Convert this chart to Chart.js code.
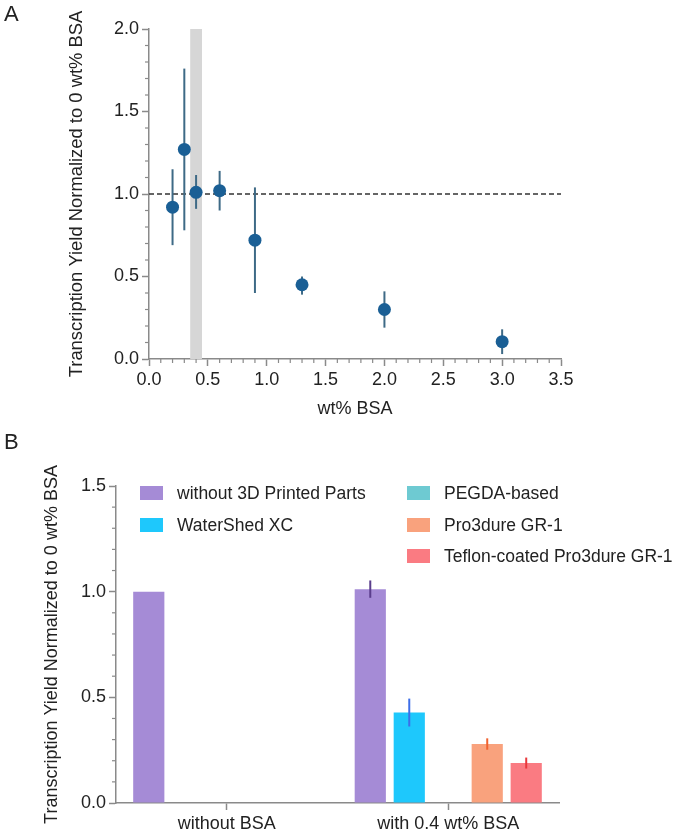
<!DOCTYPE html>
<html>
<head>
<meta charset="utf-8">
<script src="https://cdn.jsdelivr.net/npm/chart.js@4.4.1/dist/chart.umd.min.js"></script>
<style>
  body { margin: 0; background: #fff; font-family: "Liberation Sans", Arial, sans-serif; color: #222; }
  #wrap { position: relative; width: 677px; height: 833px; overflow: hidden; }
  .panel { position: absolute; left: 0; width: 677px; }
  #panelA { top: 0; height: 420px; }
  #panelB { top: 420px; height: 413px; }
  .tag { position: absolute; left: 4px; font-size: 22px; }
  .leg { position: absolute; font-size: 17.5px; white-space: nowrap; line-height: 22px; }
  .leg span.sw { display: inline-block; width: 23px; height: 14px; vertical-align: -1px; margin-right: 14px; }
</style>
</head>
<body>
<div id="wrap">
  <div class="panel" id="panelA"><canvas id="chartA"></canvas></div>
  <div class="panel" id="panelB"><canvas id="chartB"></canvas></div>
  <div class="tag" style="top:1px">A</div>
  <div class="tag" style="top:429px">B</div>
  <div id="legendB"></div>
</div>
<script>
// Panel A - transcription yield vs BSA concentration
const bsaConc   = [0.2, 0.3, 0.4, 0.6, 0.9, 1.3, 2.0, 3.0];
const yieldMean = [0.92, 1.27, 1.01, 1.02, 0.72, 0.45, 0.30, 0.105];
const yieldLow  = [0.69, 0.78, 0.91, 0.90, 0.40, 0.39, 0.19, 0.03];
const yieldHigh = [1.15, 1.76, 1.115, 1.14, 1.04, 0.50, 0.41, 0.18];
const bandRange = [0.35, 0.45];
const refLevel = 1.0;

// Panel B - grouped bars
const conditions = ['without BSA', 'with 0.4 wt% BSA'];
const materials = ['without 3D Printed Parts', 'WaterShed XC', 'PEGDA-based', 'Pro3dure GR-1', 'Teflon-coated Pro3dure GR-1'];
const noPrinted   = [1.0, 1.012];
const noPrintedSd = [null, 0.041];
const waterShed   = [null, 0.428];
const waterShedSd = [null, 0.066];
const pegda       = [null, null];
const pegdaSd     = [null, null];
const pro3dure    = [null, 0.279];
const pro3dureSd  = [null, 0.027];
const teflon      = [null, 0.189];
const teflonSd    = [null, 0.026];

const barColors = ['#a58bd6', '#1ec8fc', '#6ecad2', '#f9a27d', '#fa7b82'];
const errColors = ['#5a3d8c', '#3d6ee8', '#4aa7b0', '#f0622f', '#e8383c'];

const AXIS = '#8a8a8a';
const FONT = { family: 'Liberation Sans, Arial, sans-serif', size: 18 };
const TITLE_FONT = { family: 'Liberation Sans, Arial, sans-serif', size: 18.4 };
Chart.defaults.color = '#222';
Chart.defaults.font.family = FONT.family;

// small ticks between the labelled ones
const minorTicks = {
    id: 'minorTicks',
    afterDraw(chart) {
        const ctx = chart.ctx;
        ctx.save();
        ctx.strokeStyle = AXIS;
        ctx.lineWidth = 1.2;
        Object.values(chart.scales).forEach(s => {
            const step = s.options.minorStep;
            if (!step) return;
            for (let v = s.min; v <= s.max + 1e-9; v += step) {
                const r = Math.round(v / step) * step;
                if (Math.abs(r / s.options.ticks.stepSize - Math.round(r / s.options.ticks.stepSize)) < 1e-6) continue;
                const p = s.getPixelForValue(r);
                ctx.beginPath();
                if (s.isHorizontal()) {
                    ctx.moveTo(p, s.top); ctx.lineTo(p, s.top + 4);
                } else {
                    ctx.moveTo(s.right, p); ctx.lineTo(s.right - 4, p);
                }
                ctx.stroke();
            }
        });
        ctx.restore();
    }
};

// gray band + error bars for panel A
const panelAExtras = {
    id: 'panelAExtras',
    beforeDatasetsDraw(chart) {
        const { ctx, chartArea, scales: { x } } = chart;
        ctx.save();
        ctx.fillStyle = '#d6d6d6';
        const x0 = x.getPixelForValue(bandRange[0]);
        const x1 = x.getPixelForValue(bandRange[1]);
        ctx.fillRect(x0, chartArea.top, x1 - x0, chartArea.bottom - chartArea.top);
        ctx.restore();
    },
    beforeDatasetDraw(chart, args) {
        if (args.index !== 0) return;
        const { ctx, scales: { x, y } } = chart;
        ctx.save();
        ctx.strokeStyle = '#3e6a86';
        ctx.lineWidth = 2;
        bsaConc.forEach((c, i) => {
            const px = x.getPixelForValue(c);
            ctx.beginPath();
            ctx.moveTo(px, y.getPixelForValue(yieldLow[i]));
            ctx.lineTo(px, y.getPixelForValue(yieldHigh[i]));
            ctx.stroke();
        });
        ctx.restore();
    }
};

new Chart(document.getElementById('chartA'), {
    type: 'scatter',
    data: {
        datasets: [
            {
                label: 'yield',
                data: bsaConc.map((c, i) => ({ x: c, y: yieldMean[i] })),
                pointRadius: 6.5,
                pointBackgroundColor: '#1a5f95',
                pointBorderWidth: 0
            },
            {
                type: 'line',
                label: 'reference',
                data: [{ x: 0, y: refLevel }, { x: 3.5, y: refLevel }],
                borderColor: '#333',
                borderWidth: 1.5,
                borderDash: [5, 3],
                pointRadius: 0
            }
        ]
    },
    options: {
        responsive: true,
        maintainAspectRatio: false,
        animation: false,
        events: [],
        layout: { padding: { top: 29, right: 116, left: 66, bottom: 0 } },
        plugins: { legend: { display: false }, tooltip: { enabled: false } },
        scales: {
            x: {
                type: 'linear',
                min: 0, max: 3.5,
                minorStep: 0.1,
                afterFit(s) { s.height = 61; },
                border: { color: AXIS, width: 1.5 },
                grid: { drawOnChartArea: false, tickLength: 7, color: AXIS, tickWidth: 1.5 },
                ticks: { stepSize: 0.5, padding: 3, font: FONT, color: '#222', callback: v => v.toFixed(1) },
                title: { display: true, text: 'wt% BSA', font: FONT, color: '#222', padding: { top: 0, bottom: 0 } }
            },
            y: {
                min: 0, max: 2,
                minorStep: 0.1,
                afterFit(s) { s.width = 83; },
                border: { color: AXIS, width: 1.5 },
                grid: { drawOnChartArea: false, tickLength: 7, color: AXIS, tickWidth: 1.5 },
                ticks: { stepSize: 0.5, padding: 3, font: FONT, color: '#222', callback: v => v.toFixed(1) },
                title: { display: true, text: 'Transcription Yield Normalized to 0 wt% BSA', font: TITLE_FONT, color: '#222', padding: { top: 0, bottom: 0 } }
            }
        }
    },
    plugins: [panelAExtras, minorTicks]
});

// error bars on top of the bars in panel B
const barErrors = {
    id: 'barErrors',
    afterDatasetsDraw(chart) {
        const { ctx, scales: { y } } = chart;
        ctx.save();
        ctx.lineWidth = 2;
        chart.data.datasets.forEach((ds, di) => {
            const meta = chart.getDatasetMeta(di);
            ds.data.forEach((v, j) => {
                const sd = ds.errors[j];
                if (v == null || sd == null) return;
                const bar = meta.data[j];
                ctx.strokeStyle = ds.errorColor;
                ctx.beginPath();
                ctx.moveTo(bar.x, y.getPixelForValue(v - sd));
                ctx.lineTo(bar.x, y.getPixelForValue(v + sd));
                ctx.stroke();
            });
        });
        ctx.restore();
    }
};

const seriesB = [noPrinted, waterShed, pegda, pro3dure, teflon];
const errorsB = [noPrintedSd, waterShedSd, pegdaSd, pro3dureSd, teflonSd];

const chartB = new Chart(document.getElementById('chartB'), {
    type: 'bar',
    data: {
        labels: conditions,
        datasets: materials.map((m, i) => ({
            label: m,
            data: seriesB[i],
            errors: errorsB[i],
            errorColor: errColors[i],
            backgroundColor: barColors[i],
            borderWidth: 0,
            categoryPercentage: 0.88,
            barPercentage: 0.8
        }))
    },
    options: {
        responsive: true,
        maintainAspectRatio: false,
        animation: false,
        events: [],
        layout: { padding: { top: 66, right: 118, left: 41, bottom: 0 } },
        plugins: { legend: { display: false }, tooltip: { enabled: false } },
        scales: {
            x: {
                afterFit(s) { s.height = 30; },
                border: { color: AXIS, width: 1.5 },
                grid: { offset: false, drawOnChartArea: false, tickLength: 7, color: AXIS, tickWidth: 1.5 },
                ticks: { padding: 3, font: FONT, color: '#222' }
            },
            y: {
                min: 0, max: 1.5,
                minorStep: 0.1,
                afterFit(s) { s.width = 75; },
                border: { color: AXIS, width: 1.5 },
                grid: { drawOnChartArea: false, tickLength: 7, color: AXIS, tickWidth: 1.5 },
                ticks: { stepSize: 0.5, padding: 3, font: FONT, color: '#222', callback: v => v.toFixed(1) },
                title: { display: true, text: 'Transcription Yield Normalized to 0 wt% BSA', font: FONT, color: '#222', padding: { top: 0, bottom: 0 } }
            }
        }
    },
    plugins: [barErrors, minorTicks]
});

// legend in two columns, built from the chart datasets
const legendEl = document.getElementById('legendB');
const colLeft = [140, 407];
chartB.data.datasets.forEach((ds, i) => {
    const col = i < 2 ? 0 : 1;
    const row = i < 2 ? i : i - 2;
    const item = document.createElement('div');
    item.className = 'leg';
    item.style.left = colLeft[col] + 'px';
    item.style.top = (482 + row * 31.5) + 'px';
    item.innerHTML = '<span class="sw" style="background:' + ds.backgroundColor + '"></span>' + ds.label;
    legendEl.appendChild(item);
});
</script>
</body>
</html>
